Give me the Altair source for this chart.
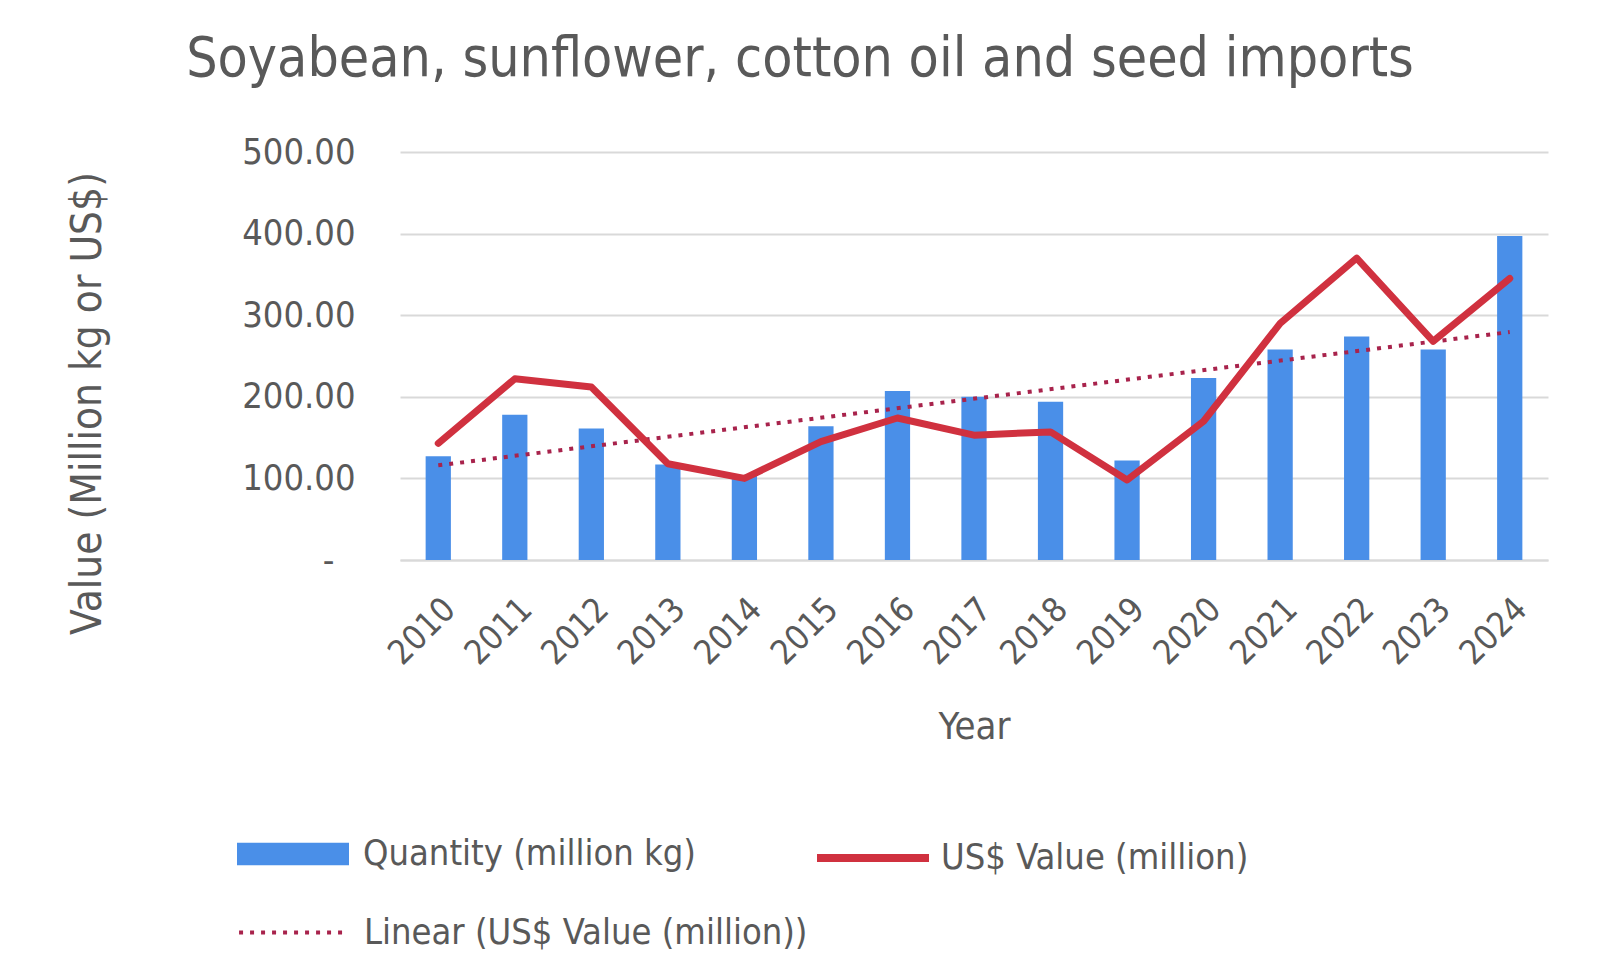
import altair as alt
import pandas as pd

years = ["2010", "2011", "2012", "2013", "2014", "2015", "2016", "2017",
         "2018", "2019", "2020", "2021", "2022", "2023", "2024"]
year_num = [2010, 2011, 2012, 2013, 2014, 2015, 2016, 2017,
            2018, 2019, 2020, 2021, 2022, 2023, 2024]
quantity = [127, 178, 161, 117, 104, 164, 207, 200, 194, 122, 223, 258, 274, 258, 397]
usd_value = [143, 222, 212, 118, 100, 145, 174, 153, 157, 98, 170, 290, 370, 268, 345]
y_ticks = [0, 100, 200, 300, 400, 500]

S_BAR = "Quantity (million kg)"
S_USD = "US$ Value (million)"
S_TREND = "Linear (US$ Value (million))"

df = pd.DataFrame({
    "Year": years,
    "yr": year_num,
    "Quantity": quantity,
    "USD": usd_value,
    "s_bar": [S_BAR] * len(years),
    "s_usd": [S_USD] * len(years),
})

FONT = "Liberation Sans Narrow, DejaVu Sans Condensed, sans-serif"
GREY = "#595959"
GRID = "#d9d9d9"

x_enc = alt.X(
    "Year:O", sort=years,
    scale=alt.Scale(paddingInner=0.67, paddingOuter=0.335),
    axis=alt.Axis(
        title="Year", labelAngle=-45, labelFontSize=34, labelFont=FONT,
        labelColor=GREY, labelPadding=32, ticks=False, domain=True,
        domainColor=GRID, domainWidth=2,
        titleFont=FONT, titleFontSize=38, titleColor=GREY, titleFontWeight="normal",
        titleX=574, titleY=167, titleBaseline="middle",
    ),
)

y_axis = alt.Axis(
    title="Value (Million kg or US$)", values=y_ticks,
    labelExpr="datum.value == 0 ? '-' : format(datum.value, '.2f')",
    grid=True, gridColor=GRID, gridWidth=2, domain=False, ticks=False,
    labelPadding={"condition": {"test": "datum.value == 0", "value": 66}, "value": 45},
    labelFontSize=36, labelFont=FONT, labelColor=GREY,
    titleFont=FONT, titleFontSize=42, titleColor=GREY, titleFontWeight="normal",
    titleX=-313, titleY=251, titleAngle=-90, titleAlign="center", titleBaseline="middle",
)
y_scale = alt.Scale(domain=[0, 500], nice=False)

base = alt.Chart(df)

legend_common = dict(
    orient="none", title=None, labelFont=FONT, labelFontSize=36,
    labelColor=GREY, labelLimit=800,
)

bars = base.mark_bar().encode(
    x=x_enc,
    y=alt.Y("Quantity:Q", scale=y_scale, axis=y_axis),
    fill=alt.Fill("s_bar:N", scale=alt.Scale(domain=[S_BAR], range=["#4a8fe8"]),
                  legend=alt.Legend(symbolType="M-1,-0.2H1V0.2H-1Z", symbolSize=12544,
                                    symbolStrokeWidth=0, symbolOpacity=1,
                                    labelOffset=14, legendX=-163, legendY=646,
                                    **legend_common)),
)

line = base.mark_line(strokeWidth=7, strokeCap="round", strokeJoin="round").encode(
    x=x_enc,
    y=alt.Y("USD:Q", scale=y_scale, axis=y_axis),
    stroke=alt.Stroke("s_usd:N", scale=alt.Scale(domain=[S_USD], range=["#d0313f"]),
                      legend=alt.Legend(symbolType="stroke", symbolSize=12544,
                                        symbolStrokeWidth=8, labelOffset=8,
                                        legendX=413, legendY=646, **legend_common)),
)

trend = base.transform_regression("yr", "USD").transform_calculate(
    Year="toString(datum.yr)", s_trend="'" + S_TREND + "'"
).mark_line(strokeWidth=4, color="#a8234c").encode(
    x=x_enc,
    y=alt.Y("USD:Q", scale=y_scale, axis=y_axis),
    strokeDash=alt.StrokeDash("s_trend:N", scale=alt.Scale(domain=[S_TREND], range=[[4, 7]]),
                              legend=alt.Legend(symbolType="stroke", symbolSize=11000,
                                                symbolStrokeWidth=4,
                                                symbolStrokeColor="#a8234c",
                                                labelOffset=18, legendX=-163, legendY=726,
                                                **legend_common)),
)

chart = alt.layer(bars, trend, line).properties(
    width=1148, height=408,
    padding={"left": 400, "top": 152, "right": 52, "bottom": 400},
    autosize=alt.AutoSizeParams(type="none"),
    background="white",
    title=alt.TitleParams(
        "Soyabean, sunflower, cotton oil and seed imports",
        font=FONT, fontSize=55, color=GREY, fontWeight="normal",
        anchor="middle", dx=-174, offset=3, baseline="alphabetic",
    ),
).resolve_legend(
    fill="independent", stroke="independent", strokeDash="independent"
).configure_view(stroke=None)

chart.save("out.html", embed_options={"renderer": "svg", "actions": False})
